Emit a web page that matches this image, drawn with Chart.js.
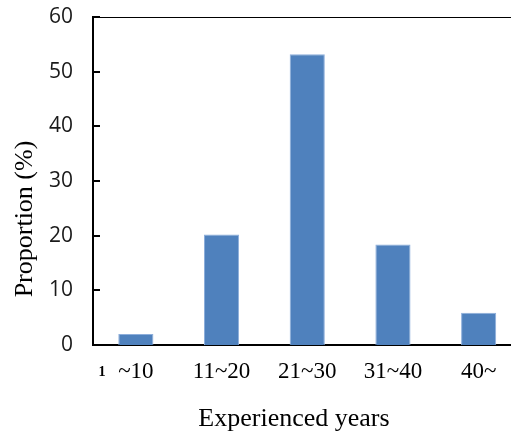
<!DOCTYPE html>
<html>
<head>
<meta charset="utf-8">
<script src="https://cdn.jsdelivr.net/npm/chart.js@4.4.0/dist/chart.umd.min.js"></script>
<style>
html,body{margin:0;padding:0;background:#fff;overflow:hidden;}
#wrap{position:relative;width:530px;height:432px;}
</style>
</head>
<body>
<div id="wrap"><canvas id="c"></canvas></div>
<script>
const categories = ["~10", "11~20", "21~30", "31~40", "40~"];
const proportions = [2.0, 20.2, 53.2, 18.4, 5.9];
const yTicks = [0, 10, 20, 30, 40, 50, 60];
const yTitle = "Proportion (%)";
const xTitle = "Experienced years";
const cornerNote = "1";

const decor = {
  id: 'decor',
  afterDraw(chart) {
    const ctx = chart.ctx;
    const a = chart.chartArea;
    const y = chart.scales.y;
    ctx.save();
    ctx.strokeStyle = '#000';
    ctx.lineWidth = 1;
    ctx.beginPath();
    ctx.moveTo(a.left, a.top + 0.5);
    ctx.lineTo(a.right, a.top + 0.5);
    ctx.stroke();
    ctx.lineWidth = 2;
    yTicks.forEach(v => {
      const py = Math.round(y.getPixelForValue(v));
      ctx.beginPath();
      ctx.moveTo(a.left, py);
      ctx.lineTo(a.left + 7, py);
      ctx.stroke();
    });
    ctx.fillStyle = '#000';
    ctx.font = '26px "Liberation Serif", "Times New Roman", serif';
    ctx.textAlign = 'center';
    ctx.textBaseline = 'middle';
    ctx.save();
    ctx.translate(25, 219);
    ctx.rotate(-Math.PI / 2);
    ctx.fillText(yTitle, 0, 0);
    ctx.restore();
    ctx.font = '26px "Liberation Serif", "Times New Roman", serif';
    ctx.fillText(xTitle, 294, 419);
    ctx.font = 'bold 14px "Liberation Serif", "Times New Roman", serif';
    ctx.fillText(cornerNote, 102, 372);
    ctx.restore();
  }
};

new Chart(document.getElementById('c'), {
  type: 'bar',
  data: {
    labels: categories,
    datasets: [{
      data: proportions,
      backgroundColor: '#4F81BD',
      borderColor: '#8DAEDB',
      borderWidth: 1,
      barPercentage: 0.41,
      categoryPercentage: 1.0
    }]
  },
  options: {
    responsive: true,
    maintainAspectRatio: false,
    animation: false,
    layout: { padding: { top: 17, right: 8.5, left: 0, bottom: 0 } },
    plugins: { legend: { display: false }, tooltip: { enabled: false } },
    scales: {
      x: {
        grid: { display: false, drawTicks: false },
        border: { display: true, color: '#000', width: 2 },
        ticks: {
          color: '#000',
          padding: 13,
          font: { family: '"Liberation Serif", "Times New Roman", serif', size: 23 }
        },
        afterFit(s) { s.height = 87; s.paddingLeft = 0; s.paddingRight = 0; }
      },
      y: {
        min: 0, max: 60,
        grid: { display: false, drawTicks: false },
        border: { display: true, color: '#000', width: 2 },
        ticks: {
          stepSize: 10,
          color: '#1a1a1a',
          padding: 20,
          font: { family: '"Open Sans", sans-serif', size: 21 }
        },
        afterFit(s) { s.width = 93; s.paddingTop = 0; s.paddingBottom = 0; }
      }
    }
  },
  plugins: [decor]
});
</script>
</body>
</html>
